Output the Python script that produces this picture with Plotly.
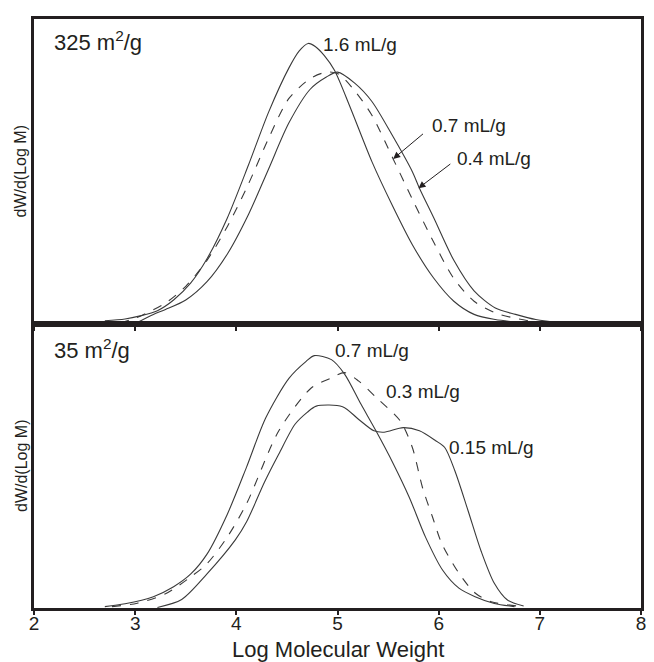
import plotly.graph_objects as go

# ---- data: top panel (325 m2/g) ----
top_16_x = [2.70, 2.90, 3.05, 3.22, 3.38, 3.55, 3.71, 3.91, 4.12, 4.32, 4.52, 4.62, 4.71, 4.78,
            4.87, 4.97, 5.13, 5.34, 5.54, 5.74, 5.95, 6.15, 6.35, 6.56, 6.76, 6.90]
top_16_y = [0.012, 0.018, 0.028, 0.045, 0.08, 0.136, 0.215, 0.348, 0.522, 0.696, 0.840, 0.895, 0.920, 0.910,
            0.880, 0.832, 0.707, 0.533, 0.391, 0.261, 0.152, 0.076, 0.033, 0.016, 0.008, 0.004]

top_07_x = [2.85, 3.00, 3.10, 3.30, 3.50, 3.71, 3.91, 4.12, 4.32, 4.52, 4.73, 4.89, 5.01, 5.17,
            5.34, 5.55, 5.74, 5.95, 6.15, 6.35, 6.56, 6.76, 6.96, 7.10]
top_07_y = [0.005, 0.02, 0.035, 0.07, 0.125, 0.21, 0.32, 0.46, 0.61, 0.74, 0.805, 0.826, 0.82, 0.765,
            0.685, 0.542, 0.41, 0.27, 0.15, 0.076, 0.038, 0.02, 0.008, 0.003]

top_04_x = [3.00, 3.18, 3.30, 3.50, 3.71, 3.91, 4.12, 4.32, 4.52, 4.73, 4.89, 5.00, 5.17, 5.34,
            5.54, 5.74, 5.81, 5.95, 6.15, 6.35, 6.56, 6.76, 6.96, 7.23]
top_04_y = [0.003, 0.033, 0.049, 0.08, 0.14, 0.23, 0.36, 0.51, 0.66, 0.77, 0.81, 0.826, 0.79, 0.73,
            0.62, 0.50, 0.446, 0.35, 0.21, 0.11, 0.054, 0.033, 0.016, 0.004]

# ---- data: bottom panel (35 m2/g) ----
bot_07_x = [2.70, 2.90, 3.18, 3.38, 3.55, 3.71, 3.91, 4.10, 4.29, 4.52, 4.69, 4.77, 4.94, 5.07,
            5.23, 5.38, 5.55, 5.71, 5.87, 6.04, 6.20, 6.36, 6.55, 6.75]
bot_07_y = [0.005, 0.015, 0.04, 0.075, 0.12, 0.19, 0.33, 0.496, 0.67, 0.81, 0.87, 0.89, 0.876, 0.825,
            0.72, 0.625, 0.51, 0.39, 0.25, 0.133, 0.07, 0.04, 0.016, 0.005]

bot_03_x = [2.77, 3.02, 3.30, 3.55, 3.71, 3.91, 4.10, 4.42, 4.74, 4.93, 5.07, 5.21, 5.39, 5.62,
            5.74, 5.84, 5.94, 6.03, 6.20, 6.36, 6.52, 6.78]
bot_03_y = [0.005, 0.017, 0.05, 0.11, 0.156, 0.25, 0.367, 0.625, 0.776, 0.81, 0.83, 0.80, 0.74, 0.66,
            0.566, 0.425, 0.32, 0.228, 0.123, 0.053, 0.022, 0.007]

bot_015_x = [3.22, 3.46, 3.71, 3.99, 4.10, 4.28, 4.42, 4.58, 4.70, 4.79, 5.05, 5.21, 5.36, 5.46,
             5.65, 5.81, 5.97, 6.06, 6.16, 6.29, 6.42, 6.55, 6.68, 6.84]
bot_015_y = [0.002, 0.03, 0.12, 0.24, 0.303, 0.445, 0.543, 0.648, 0.69, 0.712, 0.71, 0.665, 0.625, 0.62,
             0.636, 0.625, 0.59, 0.566, 0.484, 0.344, 0.2, 0.087, 0.028, 0.007]

x_ticks = [2, 3, 4, 5, 6, 7, 8]

INK = '#231f20'
CURVE = '#3a3a3a'
FONT = 'Liberation Sans, Arial, sans-serif'
SPLIT = 0.4814

fig = go.Figure()

def add_curve(x, y, dash, xa, ya):
    fig.add_trace(go.Scatter(
        x = x, y = y, mode = 'lines', xaxis = xa, yaxis = ya,
        line = dict(color = CURVE, width = 1.1, dash = dash, shape = 'spline', smoothing = 0.8),
        showlegend = False, hoverinfo = 'skip',
    ))

add_curve(top_16_x, top_16_y, 'solid', 'x', 'y')
add_curve(top_07_x, top_07_y, 'dash', 'x', 'y')
add_curve(top_04_x, top_04_y, 'solid', 'x', 'y')
add_curve(bot_07_x, bot_07_y, 'solid', 'x2', 'y2')
add_curve(bot_03_x, bot_03_y, 'dash', 'x2', 'y2')
add_curve(bot_015_x, bot_015_y, 'solid', 'x2', 'y2')

axis_common = dict(
    range = [2, 8], tickvals = x_ticks, ticks = 'outside', ticklen = 4, tickwidth = 1.5,
    tickcolor = INK, showline = True, mirror = True, linewidth = 2.5, linecolor = INK,
    showgrid = False, zeroline = False,
)
yaxis_common = dict(
    range = [0, 1], showline = True, mirror = True, linewidth = 2.5, linecolor = INK,
    showgrid = False, zeroline = False, showticklabels = False, ticks = '',
)

def label(text, x, y, xref, yref, size = 19):
    fig.add_annotation(text = text, x = x, y = y, xref = xref, yref = yref, showarrow = False,
                       xanchor = 'left', yanchor = 'middle', font = dict(size = size, color = INK))

def pointer(x, y, ax, ay):
    # arrow from label (ax, ay) to curve point (x, y), top panel
    fig.add_annotation(x = x, y = y, xref = 'x', yref = 'y', ax = ax, ay = ay,
                       axref = 'x', ayref = 'y', showarrow = True, text = '',
                       arrowhead = 2, arrowsize = 1.4, arrowwidth = 1, arrowcolor = INK)

label('325 m<sup>2</sup>/g', 2.176, 0.928, 'x', 'y', 22)
label('1.6 mL/g', 4.84, 0.915, 'x', 'y')
label('0.7 mL/g', 5.91, 0.651, 'x', 'y')
label('0.4 mL/g', 6.16, 0.542, 'x', 'y')
pointer(5.55, 0.542, 5.86, 0.628)
pointer(5.80, 0.446, 6.13, 0.529)

label('35 m<sup>2</sup>/g', 2.176, 0.912, 'x2', 'y2', 22)
label('0.7 mL/g', 4.96, 0.909, 'x2', 'y2')
label('0.3 mL/g', 5.455, 0.762, 'x2', 'y2')
label('0.15 mL/g', 6.08, 0.565, 'x2', 'y2')

for yc in [(1 + SPLIT) / 2, SPLIT / 2]:
    fig.add_annotation(text = 'dW/d(Log M)', x = -0.0218, y = yc, xref = 'paper', yref = 'paper',
                       showarrow = False, textangle = -90, xanchor = 'center', yanchor = 'middle',
                       font = dict(size = 16, color = INK))

fig.add_annotation(text = 'Log Molecular Weight', x = 0.5, y = -0.071, xref = 'paper', yref = 'paper',
                   showarrow = False, xanchor = 'center', yanchor = 'middle',
                   font = dict(size = 22, color = INK))

# page body adds an 8px margin, so the figure is shrunk to keep the frame in view
fig.update_layout(
    width = 646, height = 654,
    margin = dict(l = 26, r = 8, t = 8, b = 54),
    paper_bgcolor = 'white', plot_bgcolor = 'white',
    font = dict(family = FONT, color = INK),
    xaxis = dict(axis_common, domain = [0, 1], anchor = 'y', showticklabels = False),
    yaxis = dict(yaxis_common, domain = [SPLIT, 1], anchor = 'x'),
    xaxis2 = dict(axis_common, domain = [0, 1], anchor = 'y2', showticklabels = True,
                  ticklabelstandoff = -8, tickfont = dict(size = 19, color = INK)),
    yaxis2 = dict(yaxis_common, domain = [0, SPLIT], anchor = 'x2'),
)

fig.write_html("out.html")
